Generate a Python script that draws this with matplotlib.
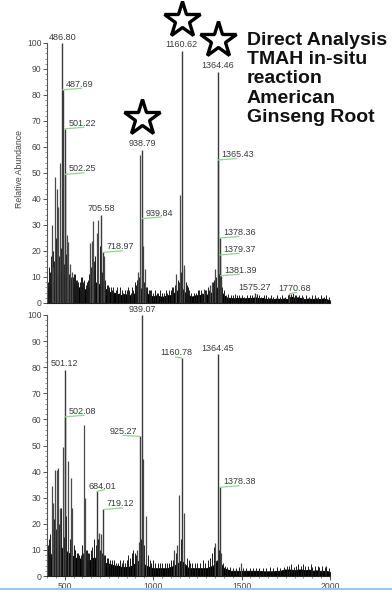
import matplotlib
matplotlib.use("Agg")
import matplotlib.pyplot as plt
from matplotlib.lines import Line2D
import numpy as np

plt.rcParams['font.family'] = ['Liberation Sans', 'DejaVu Sans']

# ---------------- data: top spectrum ----------------
top_peak_mz = [426, 436, 445, 458, 464, 474, 515, 521, 530, 540, 643, 653, 662, 681, 690, 723,
               917, 927, 942, 955, 1130, 1150, 1172, 1176, 1286, 1323, 1333, 1352]
top_peak_int = [30, 14, 48.5, 44, 37, 54, 26, 23.5, 15, 12, 23, 24, 31.5, 27, 32, 18,
                12, 57, 22, 13, 11, 41.5, 13, 14.5, 5.5, 7, 8, 13]

top_label_mz = [486.80, 487.69, 501.22, 502.25, 705.58, 718.97, 938.79, 939.84, 1160.62,
                1364.46, 1365.43, 1378.36, 1379.37, 1381.39, 1575.27, 1770.68]
top_label_int = [100, 82, 67, 49.5, 34, 19.5, 59, 32.5, 97, 89, 55, 25, 18.5, 10.5, 3.7, 3.5]
top_label_kind = ['c', 'r', 'r', 'r', 'c', 'r', 'c', 'r', 'c', 'c', 'r', 'r', 'r', 'r', 'c', 'm']

top_bg_mz = list(range(400, 2001, 20))
top_bg_int = [5, 7, 9, 10, 12, 11, 9, 8, 7, 6, 6, 5, 6, 7, 8, 7, 6, 5, 4, 4, 3.5, 3, 3.5, 3, 3,
              4, 5, 6, 4, 3, 2.5, 3, 2.5, 2.5, 3, 3, 4, 5, 6, 4, 3, 2.5, 3, 3, 3.5, 3, 4, 4, 6, 5,
              3, 2, 2, 1.8, 2, 2, 1.8, 2, 2, 2.2, 1.8, 2, 1.5, 1.8, 1.5, 1.8, 1.5, 1.8, 1.5, 2.5,
              2, 2.2, 1.8, 1.5, 1.8, 1.5, 1.8, 1.5, 1.8, 1.5, 1]

top_noise_mz = [404, 410, 414, 418, 422, 428, 432, 440, 448, 452, 468, 472, 480, 492, 494, 506,
                510, 513, 518, 525, 528, 535, 544, 548, 552, 556, 563, 570, 578, 585, 592, 600,
                606, 612, 618, 624, 630, 636, 641, 648, 658, 666, 670, 674, 686, 700, 712, 716,
                728, 730, 737, 745, 752, 760, 768, 775, 790, 798, 806, 815, 824, 832, 840, 850,
                858, 866, 874, 880, 888, 895, 900, 905, 910, 922, 935, 948, 962, 968, 976, 984,
                990, 1002, 1012, 1020, 1030, 1040, 1050, 1060, 1070, 1080, 1090, 1100, 1108,
                1115, 1122, 1140, 1145, 1156, 1166, 1185, 1190, 1195, 1205, 1215, 1230, 1242,
                1252, 1260, 1270, 1278, 1295, 1300, 1310, 1316, 1340, 1345, 1358, 1372, 1390,
                1400, 1412, 1425, 1438, 1450, 1462, 1475, 1488, 1500, 1512, 1530, 1545, 1560,
                1590, 1600, 1612, 1625, 1640, 1650, 1665, 1680, 1700, 1715, 1730, 1745, 1760,
                1780, 1790, 1800, 1810, 1825, 1840, 1850, 1865, 1880, 1900, 1915, 1930, 1950,
                1965, 1980, 1995]
top_noise_int = [8, 9, 14, 12, 18, 11, 20, 16, 13, 25, 18, 15, 21, 13, 15, 19, 17, 12, 14, 11,
                 12, 10, 9, 10, 11, 11, 9, 9, 8, 8, 10, 10, 8, 9, 7, 8, 9, 11, 12, 14, 10, 16,
                 18, 12, 13, 22, 12, 10, 9, 8, 7, 7, 6, 6, 5, 6, 5, 6, 4, 6, 5, 4, 5, 5, 6, 5,
                 4, 6, 5, 7, 8, 7, 9, 10, 12, 8, 6, 6, 5, 5, 5, 4, 5, 4, 4, 5, 4, 4, 5, 4, 5, 5,
                 6, 6, 7, 9, 8, 12, 9, 8, 7, 6, 5, 4, 4, 4, 5, 5, 5, 4, 5, 5, 6, 5, 8, 9, 10,
                 11, 6, 5, 3, 3.5, 3, 3, 3.5, 3, 3, 3, 2.5, 3, 3, 3, 3.5, 3, 2.5, 3, 3, 2.5, 3,
                 2.5, 3, 2.5, 3, 2.5, 3, 3.5, 4, 3, 3, 3, 3, 2.5, 3, 2.5, 3, 3, 2.5, 3, 2.5, 3,
                 2.5]

# ---------------- data: bottom spectrum ----------------
bot_peak_mz = [426, 432, 445, 455, 464, 474, 489, 521, 536, 543, 611, 615, 696, 706, 908, 918,
               942, 957, 1120, 1135, 1144, 1176, 1352, 1384, 1497]
bot_peak_int = [34.5, 28, 40.5, 40.5, 41.5, 26, 49.5, 44, 37.5, 26, 58, 30, 16.5, 16, 10, 13,
                45, 23, 10, 12, 31, 24, 12.5, 9, 5]

bot_label_mz = [501.12, 502.08, 684.01, 719.12, 925.27, 939.07, 1160.78, 1364.45, 1378.38]
bot_label_int = [79, 61, 32.5, 25.5, 53.5, 100, 83.5, 85, 34]
bot_label_kind = ['c', 'r', 'm', 'r', 'l', 'c', 'ml', 'c', 'r']

bot_bg_mz = list(range(400, 2001, 20))
bot_bg_int = [6, 8, 10, 11, 11, 10, 9, 8, 7, 7, 6, 6, 6, 7, 7, 6, 5, 5, 4.5, 4, 4, 3.5, 3.5,
              3.5, 4, 5, 6, 5, 4, 3.5, 3, 3, 3, 3, 3, 3.5, 4, 5, 6, 4.5, 3, 3, 3, 3, 3, 3, 3.5,
              4, 6, 5, 3, 2.5, 2, 2, 2, 2, 2, 2, 2, 2, 2, 1.8, 1.8, 1.8, 1.8, 2, 2, 2.5, 2.5,
              2.5, 2.2, 2.5, 2.5, 2.2, 2.5, 2, 2.2, 2, 2, 2, 1.5]

bot_noise_mz = [404, 408, 413, 418, 438, 450, 460, 470, 480, 495, 508, 510, 516, 528, 550, 556,
                560, 567, 575, 582, 590, 600, 606, 618, 625, 632, 640, 648, 655, 665, 675, 690,
                702, 712, 722, 730, 738, 745, 755, 770, 780, 790, 800, 812, 822, 830, 842, 852,
                860, 870, 878, 885, 895, 902, 930, 948, 962, 970, 980, 990, 1000, 1012, 1025,
                1040, 1052, 1065, 1080, 1092, 1100, 1110, 1128, 1155, 1165, 1190, 1200, 1210,
                1220, 1235, 1250, 1265, 1280, 1295, 1310, 1322, 1335, 1345, 1370, 1395, 1408,
                1420, 1435, 1450, 1470, 1485, 1510, 1525, 1550, 1565, 1580, 1600, 1620, 1640,
                1660, 1680, 1700, 1720, 1740, 1755, 1770, 1780, 1795, 1810, 1820, 1835, 1850,
                1860, 1875, 1890, 1900, 1915, 1930, 1940, 1955, 1970, 1980, 1992]
bot_noise_int = [10, 12, 14, 16, 22, 18, 15, 20, 26, 15, 18, 23, 14, 14, 12, 10, 10, 9, 9, 8,
                 8, 12, 9, 10, 10, 9, 9, 10, 11, 14, 12, 14, 10, 9, 8, 8, 7, 7, 6, 6, 6, 5, 5,
                 6, 5, 6, 5, 6, 8, 7, 9, 10, 9, 8, 14, 12, 8, 8, 6, 5, 6, 5, 5, 5, 5, 5, 5, 5, 6,
                 6, 9, 14, 10, 7, 6, 5, 5, 5, 5, 5, 6, 5, 6, 7, 9, 11, 10, 5, 4, 3.5, 3.5, 3, 3,
                 3.5, 3, 3, 3, 3, 3, 3, 3, 3, 3.5, 3, 3.5, 3, 3.5, 4, 4, 4.5, 3.5, 4, 4.5, 4,
                 4.5, 4, 4, 4.5, 3.5, 4, 4, 3.5, 4, 3.5, 4, 3]

star_peaks = [938.79, 1160.62, 1364.46]

x_ticks = [500, 1000, 1500, 2000]
y_ticks = [0, 10, 20, 30, 40, 50, 60, 70, 80, 90, 100]

title_text = "Direct Analysis\nTMAH in-situ\nreaction\nAmerican\nGinseng Root"

# ---------------- drawing ----------------
W, H = 392, 594
fig = plt.figure(figsize=(W / 100, H / 100), dpi=100)
fig.patch.set_facecolor('white')

ax_top = fig.add_axes([47 / W, 1 - 303 / H, 283 / W, 260 / H])
ax_bot = fig.add_axes([47 / W, 1 - 576 / H, 283 / W, 261 / H])

PX = 0.72  # points per pixel
GREEN = '#8fd88f'
TXT = '#3a3a3a'


def draw_panel(ax, bg_mz, bg_int, noise_mz, noise_int, peak_mz, peak_int,
               lab_mz, lab_int, lab_kind):
    ax.fill_between(bg_mz, 0, bg_int, color='black', lw=0.6, zorder=1)
    ax.vlines(noise_mz, 0, noise_int, color='#1a1a1a', lw=0.7, zorder=2)
    ax.vlines(peak_mz, 0, peak_int, color='#4a4a4a', lw=0.9, zorder=3)
    ax.vlines(lab_mz, 0, lab_int, color='#3a3a3a', lw=1.0, zorder=3)
    for mz, v, kind in zip(lab_mz, lab_int, lab_kind):
        txt = f"{mz:.2f}"
        if kind == 'c':
            ax.annotate(txt, (mz, v), xytext=(0, 6 * PX), textcoords='offset points',
                        ha='center', va='center', fontsize=6.5, color=TXT, zorder=6,
                        annotation_clip=False)
        elif kind == 'r':
            ax.annotate('', (mz, v), xytext=(19 * PX, 1.5 * PX), textcoords='offset points',
                        arrowprops=dict(arrowstyle='-', color=GREEN, lw=0.9,
                                        shrinkA=0, shrinkB=0), zorder=5)
            ax.annotate(txt, (mz, v), xytext=(3.5 * PX, 5.5 * PX), textcoords='offset points',
                        ha='left', va='center', fontsize=6.5, color=TXT, zorder=6)
        elif kind == 'l':
            ax.annotate('', (mz, v), xytext=(-17 * PX, 1 * PX), textcoords='offset points',
                        arrowprops=dict(arrowstyle='-', color=GREEN, lw=0.9,
                                        shrinkA=0, shrinkB=0), zorder=5)
            ax.annotate(txt, (mz, v), xytext=(-3 * PX, 5 * PX), textcoords='offset points',
                        ha='right', va='center', fontsize=6.5, color=TXT, zorder=6)
        elif kind == 'm':
            ax.annotate('', (mz, v), xytext=(7 * PX, 1.5 * PX), textcoords='offset points',
                        arrowprops=dict(arrowstyle='-', color=GREEN, lw=0.9,
                                        shrinkA=0, shrinkB=0), zorder=5)
            ax.annotate(txt, (mz, v), xytext=(5 * PX, 5 * PX), textcoords='offset points',
                        ha='center', va='center', fontsize=6.5, color=TXT, zorder=6)
        elif kind == 'ml':
            ax.annotate('', (mz, v), xytext=(-6 * PX, 1 * PX), textcoords='offset points',
                        arrowprops=dict(arrowstyle='-', color=GREEN, lw=0.9,
                                        shrinkA=0, shrinkB=0), zorder=5)
            ax.annotate(txt, (mz, v), xytext=(-5 * PX, 5.5 * PX), textcoords='offset points',
                        ha='center', va='center', fontsize=6.5, color=TXT, zorder=6)

    ax.set_xlim(400, 2000)
    ax.set_ylim(0, 100)
    for s in ['top', 'right']:
        ax.spines[s].set_visible(False)
    ax.spines['left'].set_color('#555555')
    ax.spines['left'].set_linewidth(0.8)
    ax.spines['bottom'].set_color('#222222')
    ax.spines['bottom'].set_linewidth(0.8)
    ax.set_yticks(y_ticks)
    ax.set_yticks(np.arange(0, 101, 2), minor=True)
    ax.tick_params(axis='y', which='major', direction='out', length=3, width=0.7,
                   colors='#555555', labelsize=6.2, labelcolor='#444444', pad=1)
    ax.tick_params(axis='y', which='minor', direction='out', length=1.6, width=0.5,
                   colors='#666666')
    ax.set_facecolor('white')


draw_panel(ax_top, top_bg_mz, top_bg_int, top_noise_mz, top_noise_int,
           top_peak_mz, top_peak_int, top_label_mz, top_label_int, top_label_kind)
draw_panel(ax_bot, bot_bg_mz, bot_bg_int, bot_noise_mz, bot_noise_int,
           bot_peak_mz, bot_peak_int, bot_label_mz, bot_label_int, bot_label_kind)

# top x axis: no ticks
ax_top.set_xticks([])
# bottom x axis
ax_bot.set_xticks(x_ticks)
ax_bot.set_xticks(np.arange(400, 2001, 50), minor=True)
ax_bot.tick_params(axis='x', which='major', direction='out', length=3, width=0.7,
                   colors='#555555', labelsize=6.2, labelcolor='#444444', pad=1.5)
ax_bot.tick_params(axis='x', which='minor', direction='out', length=1.6, width=0.5,
                   colors='#666666')

ax_top.set_ylabel('Relative Abundance', fontsize=6.3, color='#444444')
ax_top.yaxis.set_label_coords(-0.083, 0.515)

# stars above highlighted peaks
star_int = [top_label_int[top_label_mz.index(m)] + 12 for m in star_peaks]
ax_top.plot(star_peaks, star_int, ls='none', marker='*', ms=27, mfc='white', mec='black',
            mew=2.4, clip_on=False, zorder=10)

fig.text(247 / W, 1 - 32 / H, title_text, ha='left', va='top', fontsize=14,
         fontweight='bold', color='#111111', linespacing=1.17)

fig.add_artist(Line2D([0, 1], [1 - 589 / H, 1 - 589 / H], transform=fig.transFigure,
                      color='#9cc6ee', lw=1.5))

fig.savefig('out.png', dpi=100)
